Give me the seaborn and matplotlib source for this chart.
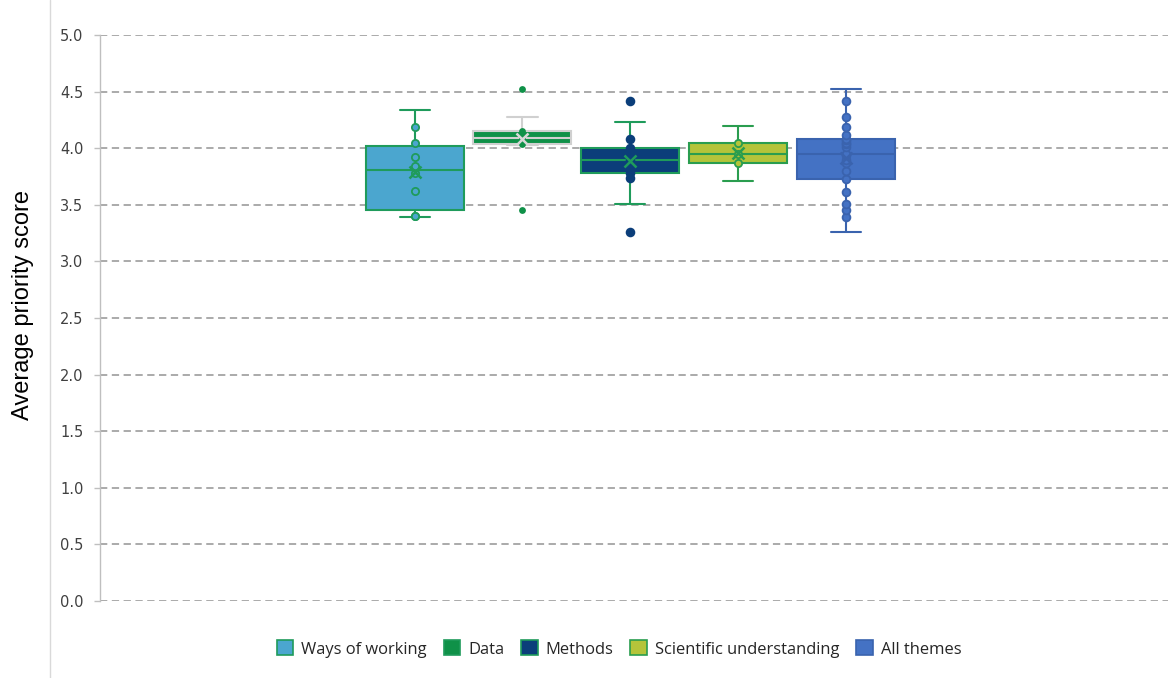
import numpy as np
import pandas as pd
import matplotlib
matplotlib.use("Agg")
import matplotlib.pyplot as plt
from matplotlib.patches import Patch
from matplotlib.lines import Line2D
import seaborn as sns

# ---- data ----
categories = ["Ways of working", "Data", "Methods", "Scientific understanding", "All themes"]
ways_of_working = [3.39, 3.40, 3.40, 3.62, 3.78, 3.84, 3.92, 4.05, 4.19, 4.34]
data_theme = [3.45, 4.03, 4.04, 4.07, 4.09, 4.12, 4.15, 4.28, 4.52]
methods = [3.26, 3.51, 3.74, 3.78, 3.82, 3.87, 3.90, 3.93, 3.95, 4.00, 4.08, 4.23, 4.42]
scientific_understanding = [3.71, 3.87, 3.95, 4.05, 4.20]
all_themes = [3.26, 3.39, 3.45, 3.51, 3.61, 3.73, 3.80, 3.87, 3.90, 3.94, 3.95,
              4.01, 4.04, 4.05, 4.07, 4.08, 4.12, 4.19, 4.28, 4.42, 4.52]
y_ticks = [0.0, 0.5, 1.0, 1.5, 2.0, 2.5, 3.0, 3.5, 4.0, 4.5, 5.0]

series = [ways_of_working, data_theme, methods, scientific_understanding, all_themes]

# ---- styles ----
fills = ["#4BA6CF", "#0F9148", "#0B3E7A", "#B4C43A", "#4472C4"]
edges = ["#1F9B5B", "#D0D0D0", "#1F9B5B", "#2A9D4F", "#3A63AE"]
pt_fill = ["#4BA6CF", "#0F9148", "#0B3E7A", "#B4C43A", "#4472C4"]
pt_edge = ["#1F9B5B", "#0F9148", "#0B3E7A", "#2A9D4F", "#3A63AE"]
pt_size = [5.2, 3.6, 5.6, 5.2, 5.6]
mean_col = ["#1F9B5B", "#D8D8D8", "#1F9B5B", "#2A9D4F", "#3A63AE"]
legend_edges = ["#1F9B5B", "#1F9B5B", "#1F9B5B", "#2A9D4F", "#3A63AE"]

sns.set_theme(style="white")
plt.rcParams["font.family"] = ["DejaVu Sans"]

fig = plt.figure(figsize=(11.73, 6.78), dpi=100)
ax = fig.add_axes([100 / 1173, 77 / 678, 1068 / 1173, 566 / 678])


def whisker_ends(vals, whis=1.5):
    v = np.asarray(vals)
    q1, q3 = np.percentile(v, [25, 75])
    iqr = q3 - q1
    lo = v[v >= q1 - whis * iqr].min()
    hi = v[v <= q3 + whis * iqr].max()
    return lo, hi


for i, cat in enumerate(categories):
    sub = pd.DataFrame({"category": [cat] * len(series[i]), "score": series[i]})
    kws = dict(
        data=sub, x="category", y="score", order=categories, width=0.91,
        color=fills[i], linecolor=edges[i], linewidth=1.5, saturation=1,
        showfliers=False, showmeans=True, whis=1.5,
        meanprops=dict(marker="x", markeredgecolor=mean_col[i],
                       markerfacecolor=mean_col[i], markersize=9,
                       markeredgewidth=1.8, zorder=5),
        ax=ax,
    )
    try:
        sns.boxplot(**kws, capwidths=0.28)
    except TypeError:
        sns.boxplot(**kws)
    # Excel-style points: all values except those sitting at the whisker ends
    lo, hi = whisker_ends(series[i])
    pts = sub[(sub["score"] != lo) & (sub["score"] != hi)]
    sns.stripplot(data=pts, x="category", y="score", order=categories,
                  jitter=False, color=pt_fill[i], edgecolor=pt_edge[i],
                  linewidth=1.3, size=pt_size[i], zorder=4, ax=ax)

ax.set_xlim(-2.92, 6.99)
ax.set_ylim(0, 5)
ax.set_yticks(y_ticks)
ax.set_yticklabels([f"{t:.1f}" for t in y_ticks], fontsize=10.5, color="#404040")
ax.set_xticks([])
ax.set_xlabel("")
ax.set_ylabel("")
ax.yaxis.grid(True, linestyle=(0, (4.2, 2.6)), color="#A0A0A0", linewidth=1.25)
ax.set_axisbelow(True)
for s in ["top", "right", "bottom"]:
    ax.spines[s].set_visible(False)
ax.spines["left"].set_color("#BFBFBF")
ax.spines["left"].set_linewidth(1.0)
ax.tick_params(axis="y", which="major", left=True, length=4, width=1.0,
               color="#BFBFBF", pad=8)
ax.set_facecolor("white")

fig.text(23 / 1173, 1 - 305 / 678, "Average priority score", rotation=90,
         ha="center", va="center", fontsize=17, family=["Liberation Sans"],
         color="black")

fig.add_artist(Line2D([50 / 1173, 50 / 1173], [0, 1], color="#D9D9D9",
                      linewidth=1.0, transform=fig.transFigure))

handles = [Patch(facecolor=fills[i], edgecolor=legend_edges[i], linewidth=1.2)
           for i in range(len(categories))]
fig.legend(handles, categories, loc="center",
           bbox_to_anchor=(619 / 1173, 1 - 649 / 678), ncol=5, frameon=False,
           handlelength=1.0, handleheight=1.0, columnspacing=1.0,
           handletextpad=0.5, prop={"family": ["Open Sans"], "size": 11.9})

fig.savefig("out.png", dpi=100)
